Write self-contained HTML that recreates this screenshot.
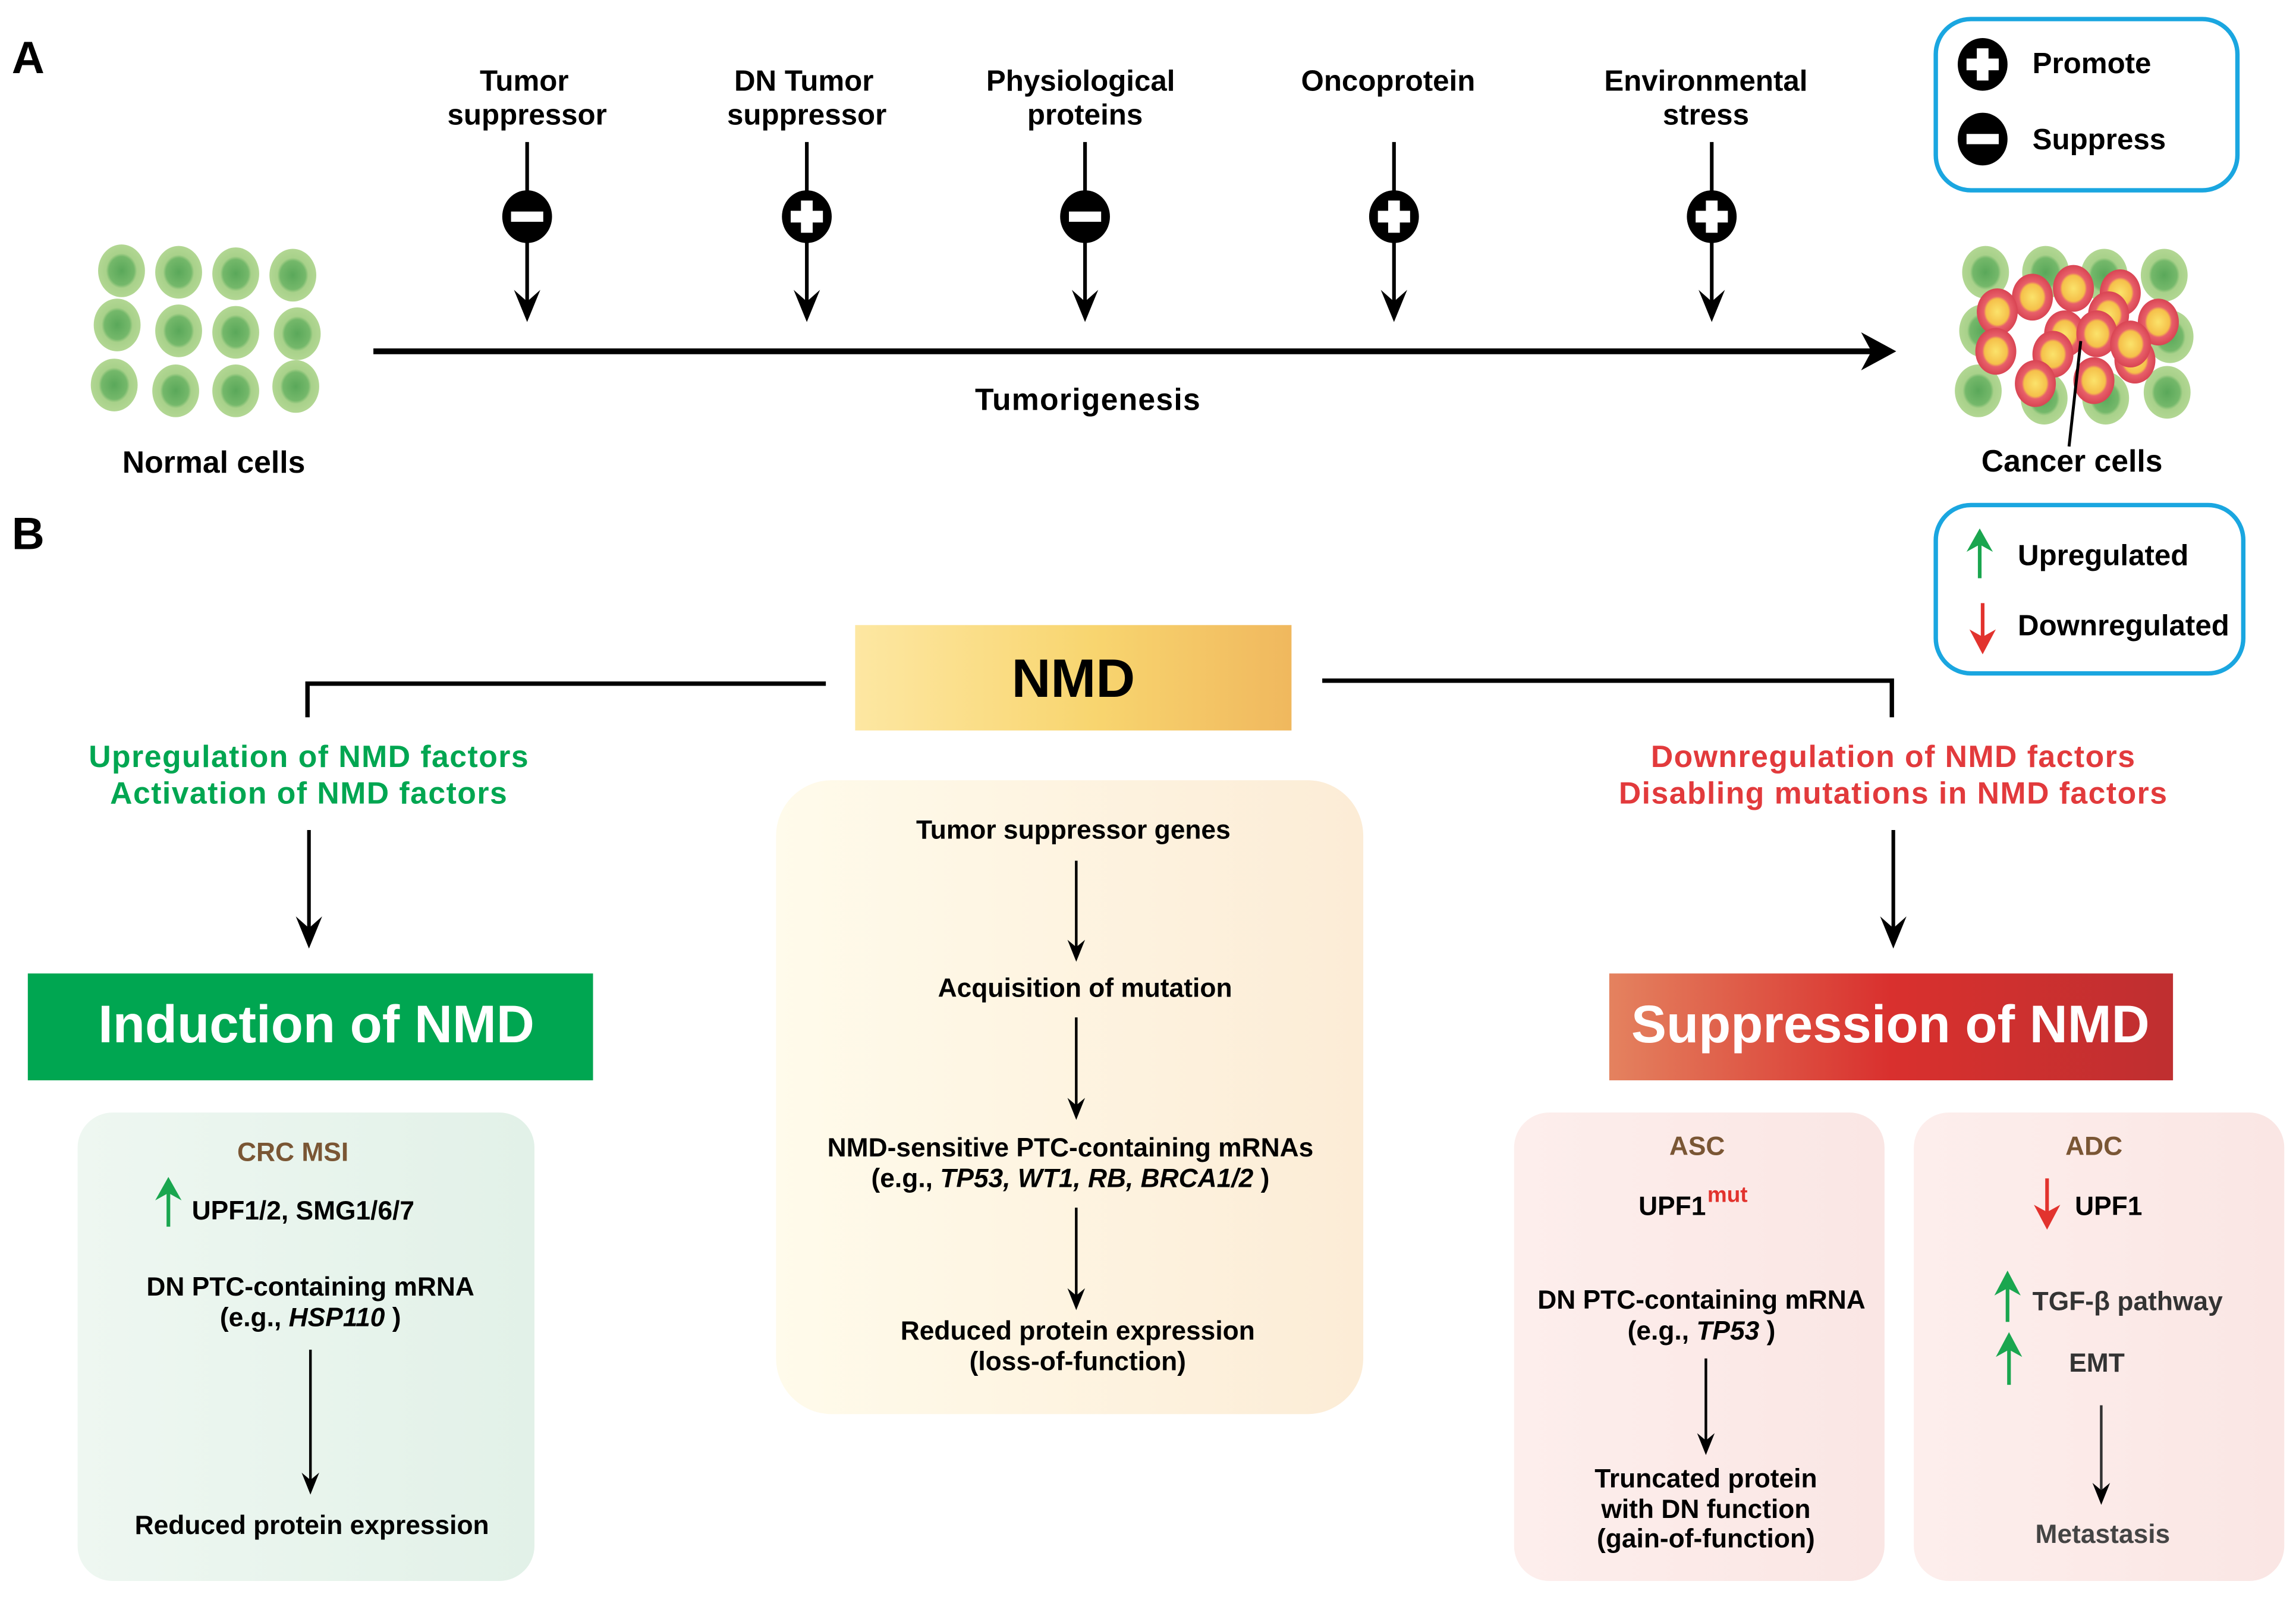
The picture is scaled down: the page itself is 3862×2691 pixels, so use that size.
<!DOCTYPE html>
<html><head><meta charset="utf-8"><style>
html,body{margin:0;padding:0;background:#fff}
svg{display:block}
text{font-family:"Liberation Sans",Arial,sans-serif;font-weight:bold}
</style></head><body>
<svg width="3862" height="2691" viewBox="0 0 1568 1093" preserveAspectRatio="none" xmlns="http://www.w3.org/2000/svg">
<defs>
<linearGradient id="nmd" x1="0" x2="1"><stop offset="0" stop-color="#fde7a2"/><stop offset="0.55" stop-color="#f8d56f"/><stop offset="1" stop-color="#f0b85e"/></linearGradient>
<linearGradient id="sup" x1="0" x2="1"><stop offset="0" stop-color="#e4825f"/><stop offset="0.5" stop-color="#d9302e"/><stop offset="1" stop-color="#bf2f30"/></linearGradient>
<linearGradient id="cen" x1="0" x2="1"><stop offset="0" stop-color="#fffbeb"/><stop offset="1" stop-color="#fcecd6"/></linearGradient>
<linearGradient id="grn" x1="0" x2="1"><stop offset="0" stop-color="#eef7f1"/><stop offset="1" stop-color="#e2f1e8"/></linearGradient>
<linearGradient id="pnk" x1="0" x2="1"><stop offset="0" stop-color="#fdeeec"/><stop offset="1" stop-color="#fae6e4"/></linearGradient>
<radialGradient id="cell" cx="0.5" cy="0.5" r="0.6"><stop offset="0" stop-color="#5aa85a"/><stop offset="0.45" stop-color="#74b86a"/><stop offset="0.55" stop-color="#a8d18a"/><stop offset="1" stop-color="#b8da98"/></radialGradient>
<radialGradient id="can" cx="0.5" cy="0.5" r="0.55"><stop offset="0" stop-color="#fbe36b"/><stop offset="0.5" stop-color="#f5c04a"/><stop offset="0.6" stop-color="#e8606a"/><stop offset="1" stop-color="#d43c4c"/></radialGradient>
<g id="ah"><path d="M-9,-20 L0,2 L9,-20 L0,-12 Z" fill="#000"/></g>
<g id="ahs"><path d="M-6,-14 L0,1 L6,-14 L0,-9 Z" fill="#000"/></g>
<g id="plus"><ellipse cx="0" cy="0" rx="17" ry="18" fill="#000"/><rect x="-11" y="-4" width="22" height="8" fill="#fff"/><rect x="-4" y="-11" width="8" height="22" fill="#fff"/></g>
<g id="minus"><ellipse cx="0" cy="0" rx="17" ry="18" fill="#000"/><rect x="-11" y="-3.5" width="22" height="7" fill="#fff"/></g>
<g id="c"><ellipse rx="16" ry="18" fill="url(#cell)"/></g>
<g id="k"><ellipse rx="14" ry="16" fill="url(#can)"/></g>
</defs>

<!-- Panel A -->
<text x="8" y="50" font-size="31">A</text>
<g font-size="20" text-anchor="middle">
<text x="358" y="62">Tumor</text><text x="360" y="85">suppressor</text>
<text x="549" y="62">DN Tumor</text><text x="551" y="85">suppressor</text>
<text x="738" y="62">Physiological</text><text x="741" y="85">proteins</text>
<text x="948" y="62">Oncoprotein</text>
<text x="1165" y="62">Environmental</text><text x="1165" y="85">stress</text>
</g>
<g stroke="#000" stroke-width="2.5">
<line x1="360" y1="97" x2="360" y2="210"/><line x1="551" y1="97" x2="551" y2="210"/><line x1="741" y1="97" x2="741" y2="210"/><line x1="952" y1="97" x2="952" y2="210"/><line x1="1169" y1="97" x2="1169" y2="210"/>
</g>
<use href="#ah" x="360" y="218"/><use href="#ah" x="551" y="218"/><use href="#ah" x="741" y="218"/><use href="#ah" x="952" y="218"/><use href="#ah" x="1169" y="218"/>
<use href="#minus" x="360" y="148"/><use href="#plus" x="551" y="148"/><use href="#minus" x="741" y="148"/><use href="#plus" x="952" y="148"/><use href="#plus" x="1169" y="148"/>
<line x1="255" y1="240" x2="1280" y2="240" stroke="#000" stroke-width="4"/>
<path d="M1271,227 L1295,240 L1271,253 L1278,240 Z" fill="#000"/>
<text x="743" y="280" font-size="21" text-anchor="middle" letter-spacing="0.5">Tumorigenesis</text>

<!-- normal cells -->
<use href="#c" x="83" y="185"/><use href="#c" x="122" y="186"/><use href="#c" x="161" y="187"/><use href="#c" x="200" y="188"/>
<use href="#c" x="80" y="222"/><use href="#c" x="122" y="226"/><use href="#c" x="161" y="227"/><use href="#c" x="203" y="228"/>
<use href="#c" x="78" y="263"/><use href="#c" x="120" y="267"/><use href="#c" x="161" y="267"/><use href="#c" x="202" y="264"/>
<text x="146" y="323" font-size="21" text-anchor="middle">Normal cells</text>

<!-- cancer cells -->
<use href="#c" x="1356" y="186"/><use href="#c" x="1397" y="186"/><use href="#c" x="1437" y="188"/><use href="#c" x="1478" y="188"/>
<use href="#c" x="1354" y="226"/><use href="#c" x="1482" y="230"/>
<use href="#c" x="1351" y="267"/><use href="#c" x="1396" y="272"/><use href="#c" x="1438" y="272"/><use href="#c" x="1480" y="268"/>
<use href="#k" x="1388" y="203"/><use href="#k" x="1416" y="197"/><use href="#k" x="1448" y="200"/><use href="#k" x="1364" y="213"/>
<use href="#k" x="1440" y="215"/><use href="#k" x="1474" y="220"/><use href="#k" x="1410" y="228"/><use href="#k" x="1432" y="228"/>
<use href="#k" x="1363" y="240"/><use href="#k" x="1402" y="242"/><use href="#k" x="1458" y="246"/><use href="#k" x="1390" y="262"/>
<use href="#k" x="1430" y="260"/><use href="#k" x="1455" y="235"/>
<line x1="1421" y1="233" x2="1413" y2="305" stroke="#000" stroke-width="2"/>
<text x="1415" y="322" font-size="21" text-anchor="middle">Cancer cells</text>

<!-- legend 1 -->
<rect x="1322" y="13" width="206" height="117" rx="24" fill="#fff" stroke="#1aa6e0" stroke-width="3"/>
<use href="#plus" x="1354" y="44"/><use href="#minus" x="1354" y="95"/>
<text x="1388" y="50" font-size="20">Promote</text>
<text x="1388" y="102" font-size="20">Suppress</text>

<!-- Panel B -->
<text x="8" y="375" font-size="31">B</text>
<rect x="1322" y="345" width="210" height="115" rx="24" fill="#fff" stroke="#1aa6e0" stroke-width="3"/>
<line x1="1352" y1="395" x2="1352" y2="372" stroke="#1aa64f" stroke-width="2.5"/><path d="M1343,377 L1352,361 L1361,377 L1352,372 Z" fill="#1aa64f"/>
<line x1="1354" y1="412" x2="1354" y2="436" stroke="#e2332e" stroke-width="2.5"/><path d="M1345,430 L1354,447 L1363,430 L1354,435 Z" fill="#e2332e"/>
<text x="1378" y="386" font-size="20">Upregulated</text>
<text x="1378" y="434" font-size="20">Downregulated</text>

<rect x="584" y="427" width="298" height="72" fill="url(#nmd)"/>
<text x="733" y="476" font-size="37" text-anchor="middle">NMD</text>
<polyline points="564,467 210,467 210,490" fill="none" stroke="#000" stroke-width="3"/>
<polyline points="903,465 1292,465 1292,490" fill="none" stroke="#000" stroke-width="3"/>

<g font-size="21" text-anchor="middle" fill="#00a651" letter-spacing="0.6">
<text x="211" y="524">Upregulation of NMD factors</text><text x="211" y="549">Activation of NMD factors</text></g>
<g font-size="21" text-anchor="middle" fill="#e23a3c" letter-spacing="0.6">
<text x="1293" y="524">Downregulation of NMD factors</text><text x="1293" y="549">Disabling mutations in NMD factors</text></g>
<line x1="211" y1="567" x2="211" y2="635" stroke="#000" stroke-width="2.5"/><use href="#ah" x="211" y="646"/>
<line x1="1293" y1="567" x2="1293" y2="635" stroke="#000" stroke-width="2.5"/><use href="#ah" x="1293" y="646"/>

<rect x="19" y="665" width="386" height="73" fill="#00a651"/>
<text x="216" y="712" font-size="36" fill="#fff" text-anchor="middle">Induction of NMD</text>
<rect x="1099" y="665" width="385" height="73" fill="url(#sup)"/>
<text x="1291" y="712" font-size="36" fill="#fff" text-anchor="middle">Suppression of NMD</text>

<!-- center -->
<rect x="530" y="533" width="401" height="433" rx="38" fill="url(#cen)"/>
<g font-size="18" text-anchor="middle">
<text x="733" y="573">Tumor suppressor genes</text>
<text x="741" y="681">Acquisition of  mutation</text>
<text x="731" y="790">NMD-sensitive PTC-containing mRNAs</text>
<text x="731" y="811">(e.g., <tspan font-style="italic">TP53, WT1, RB, BRCA1/2</tspan> )</text>
<text x="736" y="915">Reduced protein expression</text>
<text x="736" y="936">(loss-of-function)</text>
</g>
<g stroke="#000" stroke-width="1.8"><line x1="735" y1="588" x2="735" y2="648"/><line x1="735" y1="695" x2="735" y2="756"/><line x1="735" y1="825" x2="735" y2="886"/></g>
<use href="#ahs" x="735" y="656"/><use href="#ahs" x="735" y="764"/><use href="#ahs" x="735" y="894"/>

<!-- left panel -->
<rect x="53" y="760" width="312" height="320" rx="24" fill="url(#grn)"/>
<text x="200" y="793" font-size="18" fill="#7a5634" text-anchor="middle">CRC MSI</text>
<line x1="115" y1="838" x2="115" y2="815" stroke="#1aa64f" stroke-width="2.5"/><path d="M106,820 L115,804 L124,820 L115,815 Z" fill="#1aa64f"/>
<g font-size="18"><text x="131" y="833">UPF1/2, SMG1/6/7</text>
<text x="212" y="885" text-anchor="middle">DN PTC-containing mRNA</text>
<text x="212" y="906" text-anchor="middle">(e.g., <tspan font-style="italic">HSP110</tspan> )</text>
<text x="213" y="1048" text-anchor="middle">Reduced protein expression</text></g>
<line x1="212" y1="922" x2="212" y2="1012" stroke="#000" stroke-width="1.8"/><use href="#ahs" x="212" y="1020"/>

<!-- ASC -->
<rect x="1034" y="760" width="253" height="320" rx="24" fill="url(#pnk)"/>
<text x="1159" y="789" font-size="18" fill="#7a5634" text-anchor="middle">ASC</text>
<g font-size="18" text-anchor="middle">
<text x="1142" y="830">UPF1</text>
<text x="1162" y="894">DN PTC-containing mRNA</text>
<text x="1162" y="915">(e.g., <tspan font-style="italic">TP53</tspan> )</text>
<text x="1165" y="1016">Truncated protein</text>
<text x="1165" y="1037">with DN function</text>
<text x="1165" y="1057">(gain-of-function)</text></g>
<text x="1166" y="821" font-size="15" fill="#e2332e" font-weight="normal">mut</text>
<line x1="1165" y1="928" x2="1165" y2="985" stroke="#000" stroke-width="1.8"/><use href="#ahs" x="1165" y="993"/>

<!-- ADC -->
<rect x="1307" y="760" width="253" height="320" rx="24" fill="url(#pnk)"/>
<text x="1430" y="789" font-size="18" fill="#7a5634" text-anchor="middle">ADC</text>
<line x1="1398" y1="805" x2="1398" y2="828" stroke="#e2332e" stroke-width="2.5"/><path d="M1389,823 L1398,840 L1407,823 L1398,828 Z" fill="#e2332e"/>
<line x1="1371" y1="903" x2="1371" y2="880" stroke="#1aa64f" stroke-width="2.5"/><path d="M1362,885 L1371,868 L1380,885 L1371,880 Z" fill="#1aa64f"/>
<line x1="1372" y1="946" x2="1372" y2="922" stroke="#1aa64f" stroke-width="2.5"/><path d="M1363,927 L1372,910 L1381,927 L1372,922 Z" fill="#1aa64f"/>
<g font-size="18" fill="#333"><text x="1417" y="830" fill="#000">UPF1</text>
<text x="1388" y="895">TGF-β pathway</text>
<text x="1432" y="937" text-anchor="middle">EMT</text>
<text x="1436" y="1054" text-anchor="middle" fill="#444">Metastasis</text></g>
<line x1="1435" y1="960" x2="1435" y2="1019" stroke="#333" stroke-width="1.8"/><use href="#ahs" x="1435" y="1027"/>
</svg>
</body></html>
